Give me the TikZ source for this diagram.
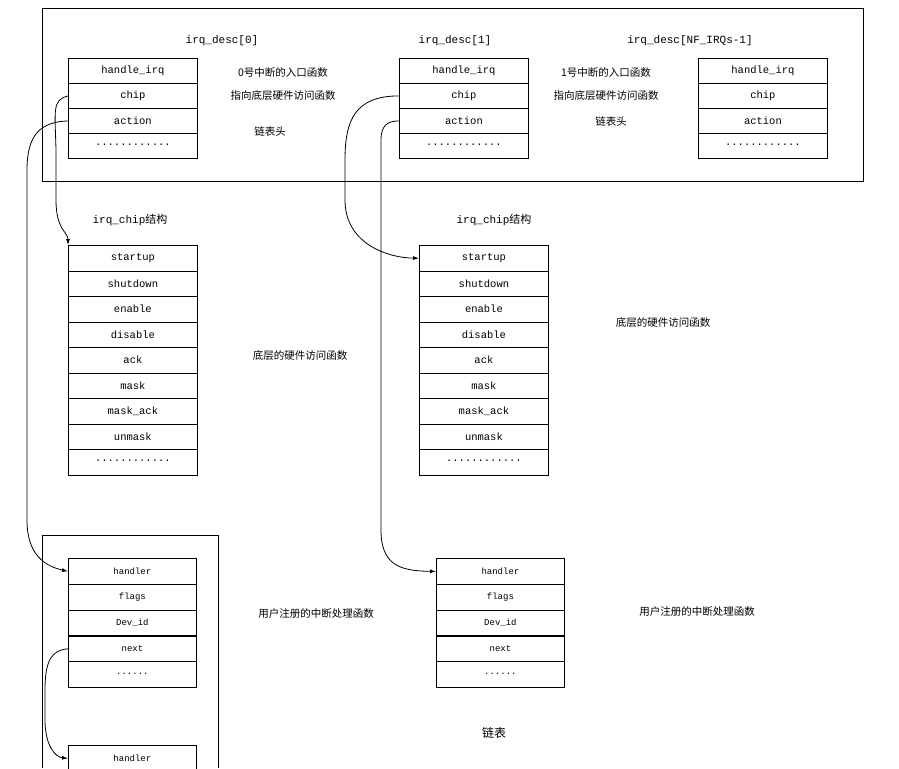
\documentclass[tikz,border=0pt]{standalone}
\usepackage{fontspec}
\setmainfont{Liberation Mono}
\newfontfamily\cjk{Noto Sans CJK SC}
\usetikzlibrary{arrows.meta}
\newcommand\mydotsA{\raisebox{2pt}{............}}
\newcommand\mydotsB{\raisebox{2pt}{......}}
\begin{document}
\begin{tikzpicture}[x=1pt,y=-1pt,
  cell/.style={draw,line width=0.8pt,minimum width=129pt,minimum height=25pt,inner sep=0pt,font=\fontsize{10.5}{12}\selectfont,anchor=north west},
  scell/.style={cell,minimum width=128pt,minimum height=26pt,font=\fontsize{9}{11}\selectfont},
  lbl/.style={font=\fontsize{11}{13}\selectfont},
  cn/.style={font=\cjk\fontsize{10.5}{12}\selectfont},
  arr/.style={-{Latex[length=6pt,width=4pt]},line width=0.8pt}]
\useasboundingbox (0,0) rectangle (899,768);
\draw[line width=0.8pt] (42,8) rectangle (863,181);
% descriptors
\foreach \n/\x in {a/68,b/399,c/698}{
  \node[cell] (\n1) at (\x,58) {handle\_irq};
  \node[cell] (\n2) at (\x,83) {chip};
  \node[cell] (\n3) at (\x,108) {action};
  \node[cell] (\n4) at (\x,133) {\mydotsA};
}
\node[lbl] (la) at (222,41) {irq\_desc[0]};
\node[lbl] (lb) at (455,41) {irq\_desc[1]};
\node[lbl] (lc) at (690,41) {irq\_desc[NF\_IRQs-1]};
\node[cn] (t1) at (283,73) {0号中断的入口函数};
\node[cn] (t2) at (283,96) {指向底层硬件访问函数};
\node[cn] (t3) at (270,131) {链表头};
\node[cn] (t4) at (606,73) {1号中断的入口函数};
\node[cn] (t5) at (606,96) {指向底层硬件访问函数};
\node[cn] (t6) at (611,121) {链表头};
% chip structs
\foreach \n/\x in {p/68,q/419}{
  \foreach \t [count=\i from 0] in {startup,shutdown,enable,disable,ack,mask,mask\_ack,unmask,\mydotsA}{
    \node[cell,minimum height=25.5pt] (\n\i) at (\x,245+25.5*\i) {\t};
  }
}
\node[lbl] (lp) at (130,220) {irq\_chip\cjk 结构};
\node[lbl] (lq) at (494,220) {irq\_chip\cjk 结构};
\node[cn] (t7) at (300,356) {底层的硬件访问函数};
\node[cn] (t8) at (663,323) {底层的硬件访问函数};
% action structs
\draw[line width=0.8pt] (42,768) -- (42,535) -- (218,535) -- (218,768);
\foreach \n/\x in {u/68,v/436}{
  \foreach \t [count=\i from 0] in {handler,flags,Dev\_id,next,\mydotsB}{
    \node[scell] (\n\i) at (\x,558+25.8*\i) {\t};
  }
}
\node[scell] (w0) at (68,745) {handler};
\node[cn] (t9) at (316,614) {用户注册的中断处理函数};
\node[cn] (t10) at (697,612) {用户注册的中断处理函数};
\node[cn,font=\cjk\fontsize{12}{14}\selectfont] (t11) at (494,733) {链表};
% arrows
\draw[arr] (a2.west) .. controls (52,100) and (55,110) .. (56,150) -- (56,200) .. controls (56,230) and (68,232) .. (68,245);
\draw[arr] (a3.west) .. controls (40,122) and (27,135) .. (27,170) -- (27,520) .. controls (27,555) and (45,566) .. (u0.west);
\draw[arr] (b2.west) .. controls (355,96) and (345,120) .. (345,160) -- (345,200) .. controls (345,245) and (390,258) .. (q0.west);
\draw[arr] (b3.west) .. controls (388,121) and (381,125) .. (381,140) -- (381,530) .. controls (381,565) and (400,571) .. (v0.west);
\draw[arr] (u3.west) .. controls (52,650) and (45,660) .. (45,690) -- (45,720) .. controls (45,745) and (55,757) .. (w0.west);
\end{tikzpicture}
\end{document}
